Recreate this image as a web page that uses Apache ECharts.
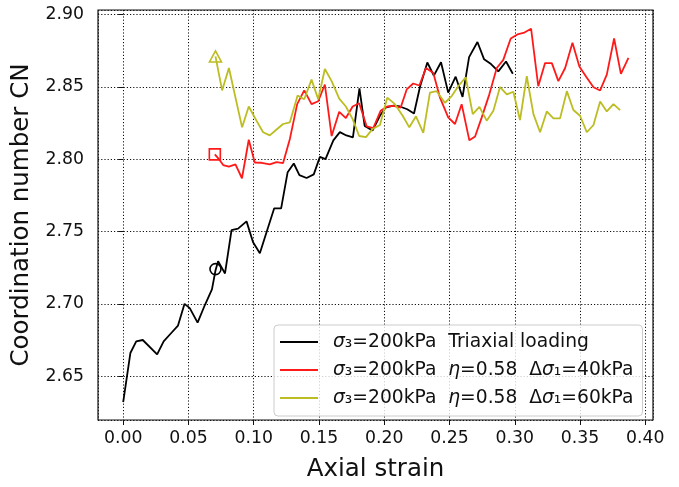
<!DOCTYPE html>
<html>
<head>
<meta charset="utf-8">
<script src="https://cdn.jsdelivr.net/npm/echarts@6.0.0/dist/echarts.min.js"></script>
<style>html,body{margin:0;padding:0;background:#fff}#c{width:679px;height:487px}</style>
</head>
<body>
<div id="c"></div>
<script>
// ---- data ----
const blackX = [0.000,0.0055,0.010,0.015,0.026,0.031,0.037,0.042,0.047,0.051,0.057,0.0625,0.068,0.0707,0.0727,0.078,0.083,0.088,0.0945,0.0995,0.1047,0.110,0.1157,0.121,0.126,0.1307,0.135,0.1405,0.146,0.1507,0.155,0.161,0.166,0.171,0.176,0.181,0.185,0.191,0.1967,0.201,0.207,0.212,0.2176,0.2228,0.2274,0.233,0.238,0.2435,0.249,0.2547,0.260,0.265,0.2714,0.2765,0.2818,0.2874,0.2933,0.2985];
const blackY = [2.632,2.666,2.674,2.675,2.665,2.674,2.680,2.685,2.700,2.697,2.687,2.699,2.710,2.723,2.7295,2.721,2.751,2.752,2.757,2.7425,2.735,2.750,2.766,2.766,2.791,2.797,2.789,2.787,2.7895,2.8016,2.800,2.813,2.8187,2.8164,2.815,2.849,2.823,2.8198,2.830,2.8357,2.837,2.8364,2.8345,2.8316,2.850,2.8668,2.8577,2.867,2.846,2.857,2.843,2.8705,2.881,2.869,2.8657,2.8607,2.8675,2.859];

const redX = [0.0702,0.074,0.0766,0.081,0.086,0.091,0.0962,0.1008,0.106,0.1123,0.1175,0.1225,0.1277,0.1333,0.1387,0.1443,0.1494,0.1545,0.1597,0.1655,0.1706,0.1758,0.1808,0.1865,0.1916,0.1972,0.2023,0.207,0.2126,0.2172,0.2222,0.2269,0.232,0.2376,0.2427,0.249,0.2542,0.2593,0.2652,0.2696,0.2747,0.2805,0.2862,0.2912,0.2969,0.302,0.3074,0.3125,0.318,0.3232,0.3284,0.3334,0.3386,0.3442,0.3495,0.3547,0.3603,0.3654,0.3705,0.3761,0.3813,0.3871];
const redY = [2.8033,2.7993,2.7959,2.7948,2.7964,2.7868,2.8134,2.7977,2.7975,2.7964,2.798,2.7973,2.814,2.838,2.8475,2.838,2.840,2.8516,2.816,2.8327,2.8284,2.8364,2.8386,2.8227,2.8214,2.8334,2.8364,2.8368,2.8357,2.8482,2.8523,2.8509,2.863,2.8596,2.8425,2.8289,2.8243,2.838,2.813,2.8157,2.8289,2.8448,2.863,2.8686,2.8834,2.8862,2.8875,2.8902,2.8504,2.8664,2.8664,2.8539,2.863,2.8804,2.864,2.857,2.8497,2.8475,2.8584,2.8834,2.8589,2.870];

const oliveX = [0.0707,0.0758,0.081,0.0911,0.0962,0.1021,0.1072,0.1123,0.1175,0.1225,0.1277,0.1336,0.1387,0.1443,0.1494,0.1545,0.1597,0.1655,0.1706,0.1758,0.1808,0.186,0.1911,0.1967,0.2023,0.2082,0.2141,0.2192,0.2243,0.2299,0.235,0.2401,0.2465,0.2517,0.2567,0.2624,0.2678,0.2729,0.2785,0.2836,0.2887,0.2939,0.2989,0.304,0.3092,0.3143,0.3194,0.3245,0.3296,0.3347,0.3399,0.3449,0.350,0.3552,0.3603,0.3654,0.3705,0.3756,0.3807];
const oliveY = [2.871,2.8475,2.863,2.822,2.8364,2.8266,2.8186,2.8164,2.8205,2.8243,2.8255,2.844,2.8414,2.855,2.8414,2.8623,2.8539,2.8418,2.8364,2.8277,2.816,2.8152,2.8209,2.8236,2.8425,2.838,2.830,2.822,2.8296,2.8182,2.846,2.847,2.839,2.8436,2.8504,2.8566,2.8311,2.8361,2.8266,2.8334,2.8498,2.8448,2.8466,2.827,2.8573,2.8311,2.8186,2.833,2.8282,2.8282,2.847,2.834,2.83,2.8186,2.8236,2.8398,2.833,2.838,2.8339];

// open start markers
const markerX = [0.0707, 0.0702, 0.0707];
const markerY = [2.724, 2.8033, 2.871];

const seriesNames = ['Triaxial', 'eta40', 'eta60'];
const legendLabels = [
  '{it|σ}₃=200kPa  Triaxial loading',
  '{it|σ}₃=200kPa  {it|η}=0.58  Δ{it|σ}₁=40kPa',
  '{it|σ}₃=200kPa  {it|η}=0.58  Δ{it|σ}₁=60kPa'
];
const xTitle = 'Axial strain';
const yTitle = 'Coordination number CN';

// ---- chart ----
const colors = ['#000000', '#ff1a1a', '#bcbd22'];
const F = 'DejaVu Sans';
const zip = (xs, ys) => xs.map((x, i) => [x, ys[i]]);

const chart = echarts.init(document.getElementById('c'), null, {renderer: 'canvas'});
const lineSeries = [[blackX, blackY], [redX, redY], [oliveX, oliveY]].map((d, i) => ({
  type: 'line', name: seriesNames[i], data: zip(d[0], d[1]),
  symbol: 'none', lineStyle: {color: colors[i], width: 1.8}, itemStyle: {color: colors[i]},
  animation: false, z: 2 + i
}));
const symbols = ['circle', 'rect', 'triangle'];
const sizes = [11, 11, [12, 11]];
const markerSeries = markerX.map((x, i) => ({
  type: 'scatter', name: 'm' + i, data: [[x, markerY[i]]], symbol: symbols[i], symbolSize: sizes[i],
  itemStyle: {color: 'rgba(0,0,0,0)', borderColor: colors[i], borderWidth: 1.6, opacity: 1},
  animation: false, z: 6, silent: true
}));

const fmt2 = v => (Math.abs(v * 100 - Math.round(v * 100)) < 1e-6) ? v.toFixed(2) : '';

chart.setOption({
  backgroundColor: '#fff',
  animation: false,
  grid: {left: 98, right: 26, top: 10, bottom: 62, show: true, borderColor: '#111', borderWidth: 1.2, backgroundColor: 'transparent'},
  xAxis: {
    type: 'value', min: -0.0193, max: 0.4059, minInterval: 0.05, maxInterval: 0.05, splitNumber: 9,
    name: xTitle, nameLocation: 'middle', nameGap: 37,
    nameTextStyle: {fontFamily: F, fontSize: 24.5, color: '#111'},
    axisLine: {show: false},
    axisTick: {show: true, inside: false, length: 5, lineStyle: {color: '#111', width: 1}},
    axisLabel: {fontFamily: F, fontSize: 17.3, color: '#111', margin: 10, showMinLabel: false, showMaxLabel: false, formatter: fmt2},
    splitLine: {show: true, lineStyle: {color: '#111', width: 1, type: [1.2, 2]}}
  },
  yAxis: {
    type: 'value', min: 2.6197, max: 2.9031, minInterval: 0.05, maxInterval: 0.05, splitNumber: 6,
    name: yTitle, nameLocation: 'middle', nameGap: 53, nameRotate: 90,
    nameTextStyle: {fontFamily: F, fontSize: 24.5, color: '#111'},
    axisLine: {show: false},
    axisTick: {show: true, inside: false, length: 5, lineStyle: {color: '#111', width: 1}},
    axisLabel: {fontFamily: F, fontSize: 17.3, color: '#111', margin: 14, showMinLabel: false, showMaxLabel: false, formatter: fmt2},
    splitLine: {show: true, lineStyle: {color: '#111', width: 1, type: [1.2, 2]}}
  },
  legend: {
    data: seriesNames.map((n, i) => ({name: n, icon: 'rect', itemStyle: {color: colors[i]}})),
    orient: 'vertical', left: 274, top: 325,
    padding: [7, 9, 8, 6], itemGap: 8, itemWidth: 38, itemHeight: 2,
    backgroundColor: 'rgba(255,255,255,0.8)', borderColor: '#cccccc', borderWidth: 1, borderRadius: 4,
    formatter: name => legendLabels[seriesNames.indexOf(name)],
    textStyle: {fontFamily: F, fontSize: 18.7, color: '#111', lineHeight: 20, padding: [0, 0, 0, 10],
      rich: {it: {fontFamily: F, fontStyle: 'italic', fontSize: 18.7, color: '#111', lineHeight: 20}}},
    selectedMode: false
  },
  series: lineSeries.concat(markerSeries)
});
</script>
</body>
</html>
